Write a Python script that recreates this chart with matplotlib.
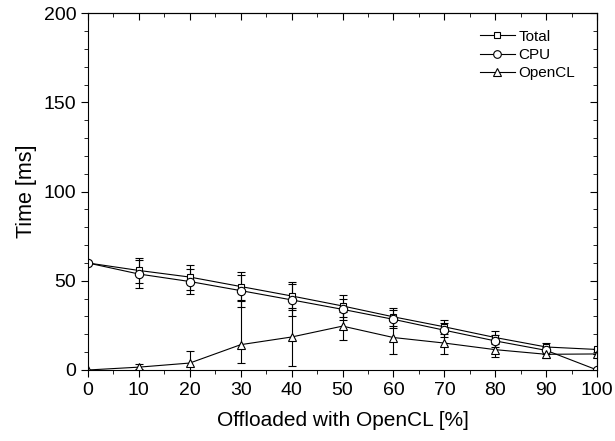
import matplotlib.pyplot as plt
from matplotlib.lines import Line2D
from matplotlib.ticker import MultipleLocator

plt.rcParams['font.family'] = ['Liberation Sans', 'DejaVu Sans']

# offloaded share [%]
offload = [0, 10, 20, 30, 40, 50, 60, 70, 80, 90, 100]

# mean times [ms]
total = [60, 55.8, 52.1, 46.8, 41.5, 35.9, 29.8, 24.2, 18.2, 12.9, 11.5]
cpu = [60, 53.8, 49.6, 44.5, 39.3, 34.0, 28.4, 22.3, 16.3, 11.0, 0]
opencl = [0, 1.6, 3.9, 14.2, 18.5, 24.6, 18.2, 15.1, 11.4, 8.8, 9.0]

# error bars [ms] (lower, upper)
total_err = [0, 7, 7, 8, 8, 6, 5, 4, 3.5, 2, 0]
cpu_err = [0, 8, 7, 9, 9, 6, 5, 4, 3.5, 2, 0]
opencl_lo = [0, 1, 4, 10.4, 16, 8, 9, 6, 4, 2, 0]
opencl_hi = [0, 2, 7, 25, 16, 8, 9, 6, 4, 2, 0]

names = ['Total', 'CPU', 'OpenCL']
markers = ['s', 'o', '^']
sizes = [4.5, 6, 6]

fig = plt.figure(figsize=(6.15, 4.41), dpi=100)
ax = fig.add_axes([0.143, 0.161, 0.828, 0.809])

style = dict(color='black', lw=0.8, mfc='white', mec='black', mew=0.8,
             ecolor='black', elinewidth=0.8, capsize=3, capthick=0.8)

ax.errorbar(offload, total, yerr=total_err, marker=markers[0], ms=sizes[0], **style)
ax.errorbar(offload, cpu, yerr=cpu_err, marker=markers[1], ms=sizes[1], **style)
ax.errorbar(offload, opencl, yerr=[opencl_lo, opencl_hi], marker=markers[2],
            ms=sizes[2], **style)

ax.set_xlim(0, 100)
ax.set_ylim(0, 200)
ax.xaxis.set_major_locator(MultipleLocator(10))
ax.xaxis.set_minor_locator(MultipleLocator(5))
ax.yaxis.set_major_locator(MultipleLocator(50))
ax.yaxis.set_minor_locator(MultipleLocator(10))
ax.tick_params(which='both', direction='out', labelsize=14, top=False, right=False)
ax.tick_params(which='major', length=5)
ax.tick_params(which='minor', length=3)

# inward ticks on top and right edges
sec_x = ax.secondary_xaxis('top')
sec_x.xaxis.set_major_locator(MultipleLocator(10))
sec_x.xaxis.set_minor_locator(MultipleLocator(5))
sec_x.tick_params(which='both', direction='in', labeltop=False)
sec_x.tick_params(which='major', length=5)
sec_x.tick_params(which='minor', length=3)
sec_y = ax.secondary_yaxis('right')
sec_y.yaxis.set_major_locator(MultipleLocator(50))
sec_y.yaxis.set_minor_locator(MultipleLocator(10))
sec_y.tick_params(which='both', direction='in', labelright=False)
sec_y.tick_params(which='major', length=5)
sec_y.tick_params(which='minor', length=3)

ax.set_xlabel('Offloaded with OpenCL [%]', fontsize=15, labelpad=9)
ax.set_ylabel('Time [ms]', fontsize=15.5, labelpad=5)

handles = [Line2D([], [], color='black', lw=0.8, marker=m, ms=s - 0.5, mfc='white',
                  mec='black', mew=0.8) for m, s in zip(markers, sizes)]
ax.legend(handles, names, loc='upper left', bbox_to_anchor=(472 / 615, 1 - 22 / 441),
          bbox_transform=fig.transFigure, frameon=False, fontsize=11, borderpad=0,
          handlelength=2.3, handletextpad=0.25, labelspacing=0.28)

fig.savefig('out.png', dpi=100)
